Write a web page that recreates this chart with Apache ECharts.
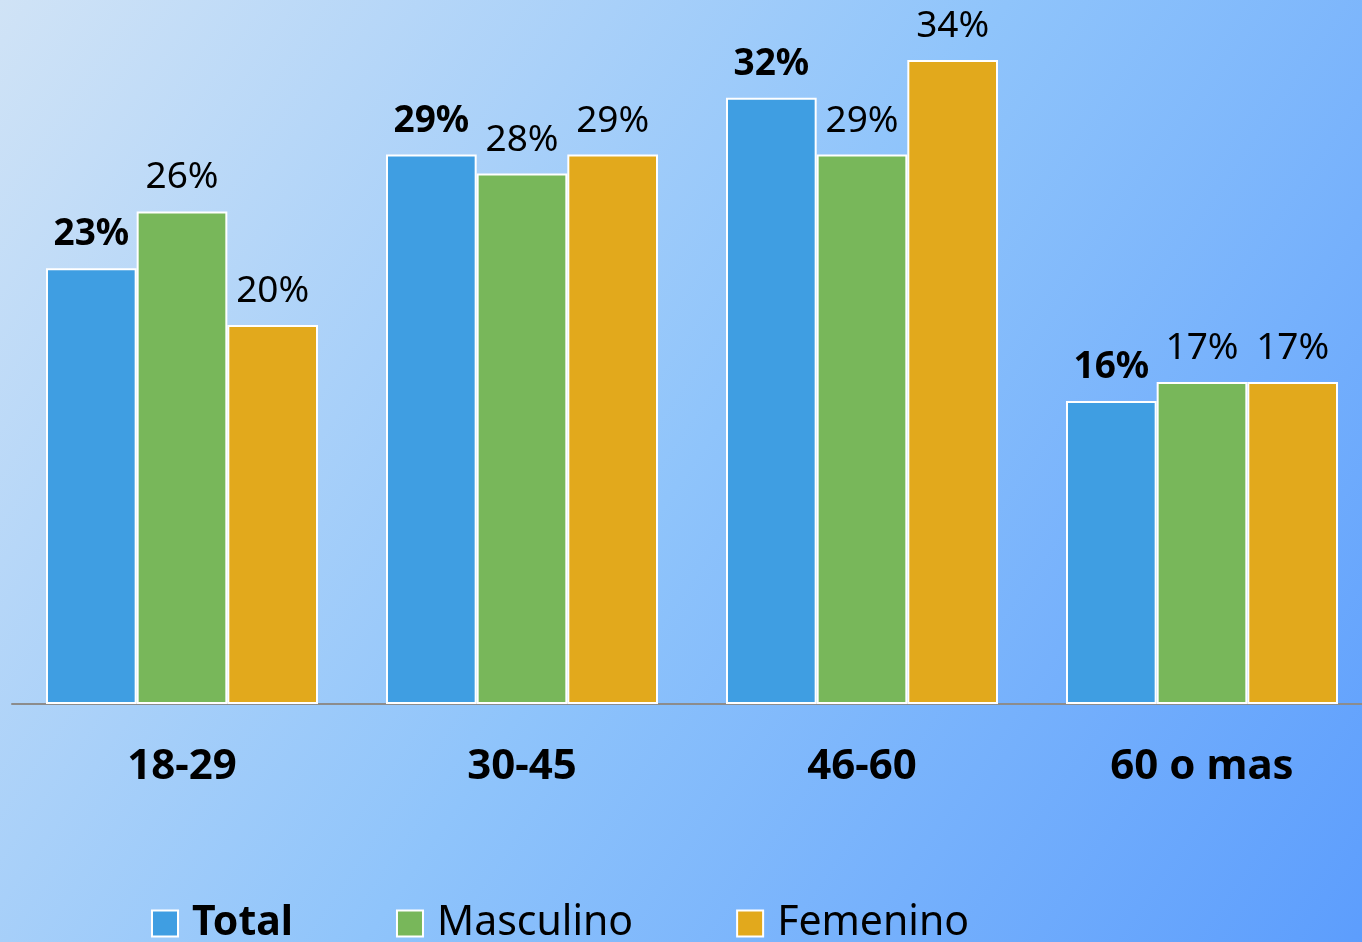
<!DOCTYPE html>
<html><head><meta charset="utf-8">
<script src="https://cdn.jsdelivr.net/npm/echarts@6/dist/echarts.min.js"></script>
<style>html,body{margin:0;padding:0;overflow:hidden;}#c{width:1372px;height:942px;}</style>
</head><body><div id="c"></div>
<script>
const categories = ['18-29', '30-45', '46-60', '60 o mas'];
const total = [23, 29, 32, 16];
const masculino = [26, 28, 29, 17];
const femenino = [20, 29, 34, 17];
const seriesNames = ['Total', 'Masculino', 'Femenino'];
const colors = ['#3f9ee2', '#78b75a', '#e2a91c'];

const FONT = '"Noto Sans", "Open Sans", sans-serif';
const chart = echarts.init(document.getElementById('c'));
function mk(name, data, color, bold) {
  return {
    name: name, type: 'bar', data: data,
    barGap: '0%', barCategoryGap: '20%',
    itemStyle: { color: color, borderColor: '#ffffff', borderWidth: 2 },
    label: {
      show: true, position: 'top', distance: 15,
      formatter: '{c}%', color: '#000', fontFamily: FONT,
      fontSize: 37, fontWeight: bold ? 'bold' : 'normal'
    }
  };
}
chart.setOption({
  backgroundColor: new echarts.graphic.LinearGradient(0, 0, 1, 1, [
    { offset: 0, color: '#d0e3f6' },
    { offset: 0.5, color: '#8fc4fb' },
    { offset: 1, color: '#5c9dfd' }
  ]),
  animation: false,
  grid: { left: 12, top: 22, right: 0, bottom: 238, containLabel: false },
  xAxis: {
    type: 'category', data: categories,
    axisLine: { show: true, lineStyle: { color: '#8c8c8c', width: 2 } },
    axisTick: { show: false },
    axisLabel: { color: '#000', fontFamily: FONT, fontSize: 42, fontWeight: 'bold', margin: 42 }
  },
  yAxis: { type: 'value', min: 0, max: 36, show: false, splitLine: { show: false } },
  legend: {
    left: 151, top: 903, padding: 0, itemWidth: 26, itemHeight: 26, itemGap: 103,
    icon: 'rect',
    itemStyle: { borderColor: '#ffffff', borderWidth: 2 },
    textStyle: { color: '#000', fontFamily: FONT, fontSize: 41, padding: [0, 0, 0, 9] },
    data: [
      { name: 'Total', textStyle: { fontWeight: 'bold' } },
      { name: 'Masculino' },
      { name: 'Femenino' }
    ]
  },
  series: [
    mk(seriesNames[0], total, colors[0], true),
    mk(seriesNames[1], masculino, colors[1], false),
    mk(seriesNames[2], femenino, colors[2], false)
  ]
});
</script></body></html>
